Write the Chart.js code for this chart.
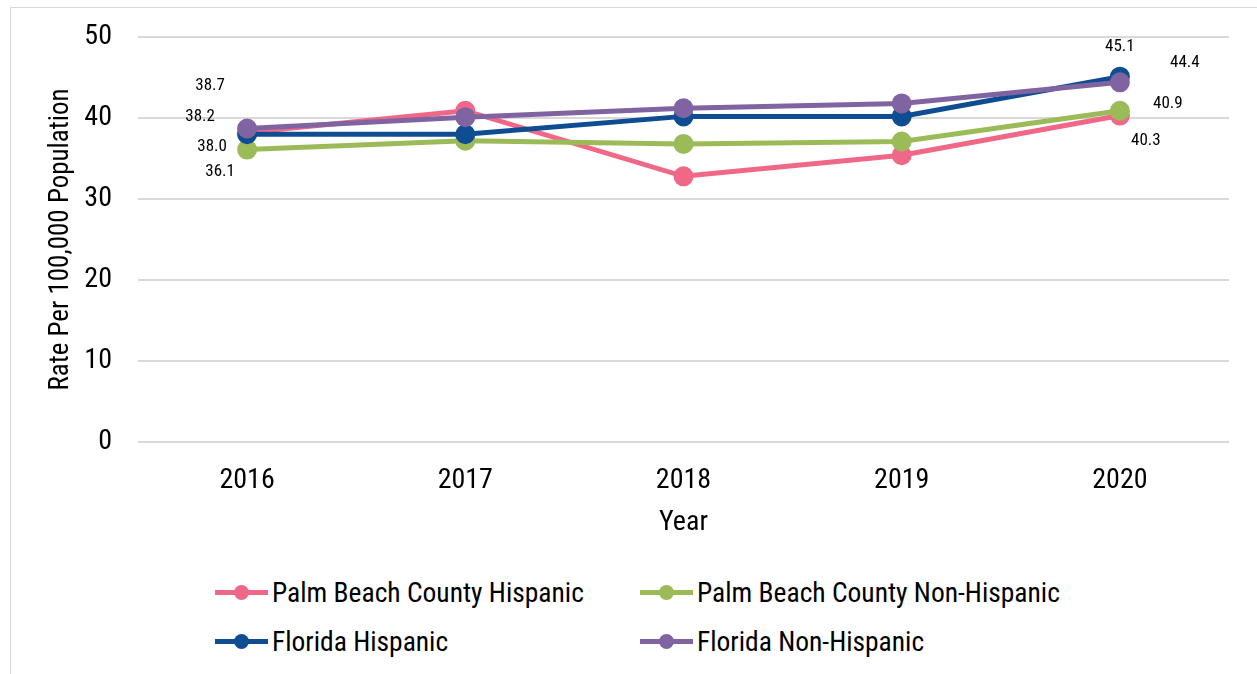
<!DOCTYPE html>
<html>
<head>
<meta charset="utf-8">
<script src="https://cdn.jsdelivr.net/npm/chart.js@4"></script>
<style>
  html, body { margin: 0; padding: 0; background: #fff; }
  body { width: 1257px; height: 674px; position: relative; overflow: hidden;
         font-family: 'Roboto Condensed', 'Liberation Sans', Arial, sans-serif; }
  .frame { position: absolute; left: 10px; top: 7px; right: -5px; bottom: -5px;
           border-left: 1px solid #d9d9d9; border-top: 1px solid #d9d9d9; }
  #wrap { position: absolute; left: 0; top: 0; width: 1257px; height: 560px; }
  .leg { position: absolute; display: flex; align-items: center; font-size: 27.5px; color: #000; white-space: nowrap; }
  .mk { position: relative; width: 53px; height: 5px; margin-right: 4px; }
  .mk i { position: absolute; left: 19px; top: -5px; width: 15px; height: 15px; border-radius: 50%; }
</style>
</head>
<body>
<div class="frame"></div>
<div id="wrap"><canvas id="myChart" width="1257" height="560"></canvas></div>
<div id="legend"></div>
<script>
// data
var years = ['2016', '2017', '2018', '2019', '2020'];
var pbcHispanic = [38.2, 40.9, 32.8, 35.4, 40.3];
var pbcNonHispanic = [36.1, 37.2, 36.8, 37.1, 40.9];
var flHispanic = [38.0, 38.0, 40.2, 40.2, 45.1];
var flNonHispanic = [38.7, 40.1, 41.2, 41.8, 44.4];
var yTicks = [0, 10, 20, 30, 40, 50];

var FONT = "'Roboto Condensed', 'Liberation Sans', Arial, sans-serif";

// where the value labels sit next to the first and last points (px)
var labelOffsets = {
  'Palm Beach County Hispanic': [[-47, -16], [26, 25]],
  'Palm Beach County Non-Hispanic': [[-27, 22], [48, -7]],
  'Florida Hispanic': [[-35, 13], [0, -30]],
  'Florida Non-Hispanic': [[-37, -43], [65, -20]]
};

var endLabels = {
  id: 'endLabels',
  afterDatasetsDraw: function (chart) {
    var c = chart.ctx;
    c.save();
    c.font = '17px ' + FONT;
    c.fillStyle = '#000';
    c.textAlign = 'center';
    c.textBaseline = 'middle';
    chart.data.datasets.forEach(function (ds, i) {
      var pts = chart.getDatasetMeta(i).data;
      var offs = labelOffsets[ds.label];
      [0, pts.length - 1].forEach(function (idx, k) {
        c.fillText(ds.data[idx].toFixed(1), pts[idx].x + offs[k][0], pts[idx].y + offs[k][1]);
      });
    });
    c.restore();
  }
};

function line(label, data, color, order) {
  return {
    label: label,
    data: data,
    borderColor: color,
    backgroundColor: color,
    pointBackgroundColor: color,
    pointBorderColor: color,
    borderWidth: 5,
    pointRadius: 7.5,
    pointHoverRadius: 7.5,
    tension: 0,
    order: order
  };
}

var ctx = document.getElementById('myChart').getContext('2d');
var chart = new Chart(ctx, {
  type: 'line',
  data: {
    labels: years,
    datasets: [
      line('Palm Beach County Hispanic', pbcHispanic, 'rgb(240, 104, 136)', 4),
      line('Palm Beach County Non-Hispanic', pbcNonHispanic, 'rgb(155, 187, 89)', 3),
      line('Florida Hispanic', flHispanic, 'rgb(14, 77, 146)', 2),
      line('Florida Non-Hispanic', flNonHispanic, 'rgb(128, 100, 162)', 1)
    ]
  },
  options: {
    responsive: false,
    animation: false,
    layout: { padding: { left: 41, right: 28, top: 37, bottom: 18 } },
    plugins: {
      legend: { display: false },
      tooltip: { enabled: false }
    },
    scales: {
      x: {
        offset: true,
        afterFit: function (s) { s.height = 100; },
        grid: { display: false },
        border: { display: false },
        ticks: { color: '#000', font: { family: FONT, size: 28 }, padding: 14 },
        title: { display: true, text: 'Year', color: '#000', font: { family: FONT, size: 28 }, padding: { top: 4, bottom: 2 } }
      },
      y: {
        min: 0,
        max: 50,
        afterBuildTicks: function (axis) {
          axis.ticks = yTicks.map(function (v) { return { value: v }; });
        },
        afterFit: function (s) {
          s.width = 97;
          s.paddingTop = 0;
          s.paddingBottom = 0;
        },
        grid: { color: '#d9d9d9', lineWidth: 2, drawTicks: false },
        border: { display: false },
        ticks: { color: '#000', font: { family: FONT, size: 28 }, padding: 26 },
        title: { display: true, text: 'Rate Per 100,000 Population', color: '#000', font: { family: FONT, size: 27 }, padding: 4 }
      }
    }
  },
  plugins: [endLabels]
});

// two-column legend like the original
var legendPos = [[215, 592], [640, 592], [215, 641], [640, 641]];
var legendEl = document.getElementById('legend');
chart.data.datasets.forEach(function (ds, k) {
  var item = document.createElement('div');
  item.className = 'leg';
  item.style.left = legendPos[k][0] + 'px';
  item.style.top = (legendPos[k][1] - 18) + 'px';
  item.style.height = '36px';
  item.innerHTML = '<span class="mk" style="background:' + ds.borderColor + '"><i style="background:' + ds.borderColor + '"></i></span>' + ds.label;
  legendEl.appendChild(item);
});
</script>
</body>
</html>
